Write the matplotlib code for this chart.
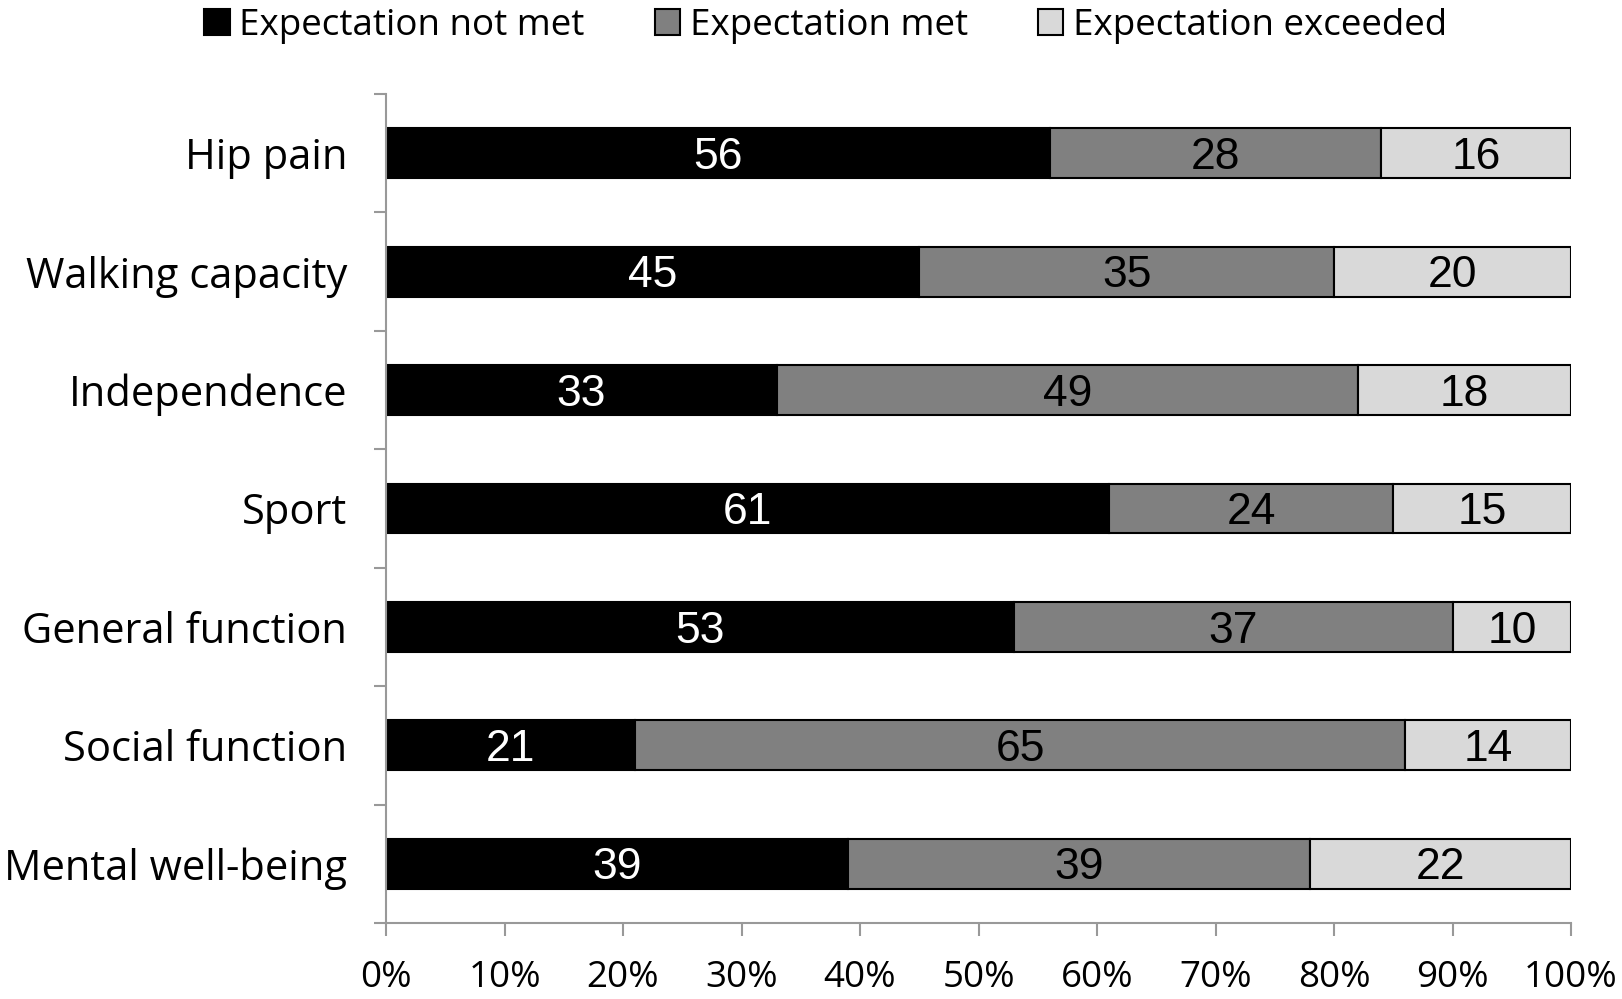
import matplotlib.pyplot as plt
import numpy as np

categories = ["Hip pain", "Walking capacity", "Independence", "Sport",
              "General function", "Social function", "Mental well-being"]
not_met = [56, 45, 33, 61, 53, 21, 39]
met = [28, 35, 49, 24, 37, 65, 39]
exceeded = [16, 20, 18, 15, 10, 14, 22]
series_names = ["Expectation not met", "Expectation met", "Expectation exceeded"]
x_ticks = list(range(0, 101, 10))

colors = ["#000000", "#808080", "#d9d9d9"]
text_colors = ["white", "black", "black"]

fig = plt.figure(figsize=(16.22, 9.99), dpi=100)
ax = fig.add_axes([0.238, 0.0761, 0.7306, 0.8298])

y = np.arange(len(categories))
left = np.zeros(len(categories))
for vals, name, c, tc in zip([not_met, met, exceeded], series_names, colors, text_colors):
    vals = np.array(vals, dtype=float)
    bars = ax.barh(y, vals, left=left, height=0.42, color=c, edgecolor="black",
                   linewidth=1.5, label=name)
    for b, v in zip(bars, vals):
        # nudge down a little so the digits sit centred in the bar
        ax.text(b.get_x() + b.get_width() / 2, b.get_y() + b.get_height() / 2 + 0.035,
                f"{int(v)}", ha="center", va="center", color=tc,
                fontsize=32, family="Liberation Sans")
    left += vals

ax.set_xlim(0, 100)
ax.set_ylim(len(categories) - 0.5, -0.5)
ax.set_xticks(x_ticks)
ax.set_xticklabels([f"{t}%" for t in x_ticks], family="Open Sans", fontsize=26.5)
ax.set_yticks(y)
ax.set_yticklabels(categories, family="Open Sans", fontsize=30)
ax.set_yticks(np.arange(-0.5, len(categories), 1), minor=True)
ax.tick_params(axis="y", which="major", length=0, pad=28)
ax.tick_params(axis="y", which="minor", length=9, width=1.5, color="#999999")
ax.tick_params(axis="x", length=9, width=1.5, color="#999999", pad=18)

for s in ["top", "right"]:
    ax.spines[s].set_visible(False)
for s in ["left", "bottom"]:
    ax.spines[s].set_color("#999999")
    ax.spines[s].set_linewidth(1.5)

fig.legend(loc="center", bbox_to_anchor=(0.509, 0.974), ncol=3, frameon=False,
           prop={"family": "Open Sans", "size": 26.5}, handlelength=0.7,
           handleheight=0.7, handletextpad=0.25, columnspacing=1.9,
           borderaxespad=0, borderpad=0)

fig.savefig("out.png", dpi=100)
